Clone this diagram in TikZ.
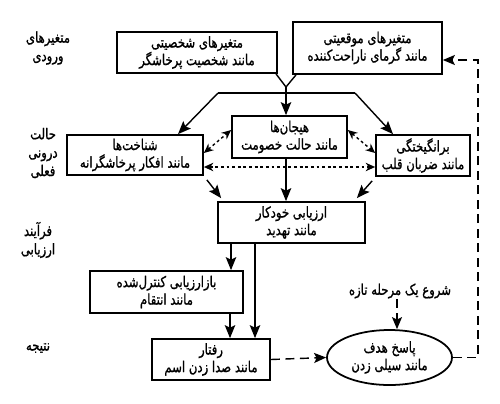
\documentclass[tikz,border=0pt]{standalone}
\usepackage{fontspec}
\newfontfamily\fafont[Script=Arabic,FakeStretch=0.78,FakeBold=1]{DejaVu Sans}
\usetikzlibrary{arrows.meta,shapes.geometric,calc}
\TeXXeTstate=1
\newcommand{\fatx}[1]{\beginR#1\endR}

\tikzset{
    box/.style={draw,line width=1pt,align=center,inner sep=0pt,
        font=\fafont\fontsize{8.5}{10}\selectfont},
    oval/.style={box,ellipse},
    lbl/.style={align=center,inner sep=0pt,font=\fafont\fontsize{8.5}{10.5}\selectfont},
    arr/.style={line width=0.8pt,-{Stealth[length=2.6mm,width=2.1mm,inset=0.5mm]}},
    dotarr/.style={line width=0.8pt,dash pattern=on 1.6pt off 1.6pt,{Stealth[length=1.9mm,width=1.7mm]}-{Stealth[length=1.9mm,width=1.7mm]}},
    dasharr/.style={line width=0.8pt,dash pattern=on 1.8mm off 1.1mm,-{Stealth[length=2.4mm,width=2mm,inset=0.5mm]}}
}

\begin{document}
\begin{tikzpicture}[x=0.02cm,y=-0.02cm]
    \useasboundingbox (0,0) rectangle (500,403);
    % labels on the left
    \foreach \n/\x/\y/\t in {in/48/48/{\fatx{متغیرهای}\\\fatx{ورودی}},
                             st/43/153/{\fatx{حالت}\\\fatx{درونی}\\\fatx{فعلی}},
                             ap/38/240/{\fatx{فرآیند}\\\fatx{ارزیابی}},
                             out/38/348/{\fatx{نتیجه}}}{
        \node[lbl] (lab\n) at (\x,\y) {\t};
    }

    % input variables
    \node[box,minimum width=3.2cm,minimum height=0.82cm] (pers) at (197,52.5)
        {\fatx{متغیرهای شخصیتی}\\\fatx{مانند شخصیت پرخاشگر}};
    \node[box,minimum width=2.98cm,minimum height=1.04cm] (sit) at (367.5,48)
        {\fatx{متغیرهای موقعیتی}\\\fatx{مانند گرمای ناراحت‌کننده}};

    % present internal state
    \node[box,minimum width=2.3cm,minimum height=0.84cm] (emo) at (289.5,137)
        {\fatx{هیجان‌ها}\\\fatx{مانند حالت خصومت}};
    \node[box,minimum width=2.72cm,minimum height=0.8cm] (cog) at (135,155)
        {\fatx{شناخت‌ها}\\\fatx{مانند افکار پرخاشگرانه}};
    \node[box,minimum width=1.88cm,minimum height=0.82cm] (aro) at (423,155.5)
        {\fatx{برانگیختگی}\\\fatx{مانند ضربان قلب}};

    % appraisal
    \node[box,minimum width=2.94cm,minimum height=0.82cm] (auto) at (291.5,222.5)
        {\fatx{ارزیابی خودکار}\\\fatx{مانند تهدید}};
    \node[box,minimum width=3.06cm,minimum height=0.84cm] (reap) at (166.5,292)
        {\fatx{بازارزیابی کنترل‌شده}\\\fatx{مانند انتقام}};

    % outcome
    \node[box,minimum width=2.36cm,minimum height=0.82cm] (beh) at (211,359.5)
        {\fatx{رفتار}\\\fatx{مانند صدا زدن اسم}};
    \node[oval,minimum width=2.5cm,minimum height=1.1cm] (goal) at (389.5,357.5)
        {\fatx{پاسخ هدف}\\\fatx{مانند سیلی زدن}};
    \node[lbl] (start) at (400,291) {\fatx{شروع یک مرحله تازه}};

    \coordinate (j) at (286,87);
    \coordinate (hl) at (218,93);
    \coordinate (hr) at (355,93);
    \coordinate (fb) at (478,60);

    % inputs into internal state
    \draw[line width=0.8pt] (pers.south -| 276,0) -- (j) -- (sit.south -| 296,0);
    \draw[line width=0.8pt] (hl) -- (hr);
    \draw[arr] (j) -- (emo.north -| j);
    \draw[arr] (hl) -- (cog.north -| 178,0);
    \draw[arr] (hr) -- (aro.north -| 393,0);

    % links inside the internal state
    \draw[dotarr] (cog.east |- 0,153) -- (emo.west |- 0,130);
    \draw[dotarr] (emo.east |- 0,130) -- (aro.west |- 0,153);
    \draw[dotarr] (cog.east |- 0,167) -- (aro.west |- 0,167);

    % into appraisal
    \draw[arr] ($(cog.south east)+(3,4)$) -- ($(auto.north west)+(4,-3)$);
    \draw[arr] (emo.south -| j) -- (auto.north -| j);
    \draw[arr] ($(aro.south west)+(-3,4)$) -- ($(auto.north east)+(-9,-3)$);
    \draw[arr] (auto.south -| 231,0) -- (reap.north -| 231,0);
    \draw[arr] (auto.south -| 255,0) -- (beh.north -| 255,0);
    \draw[arr] (reap.south -| 230,0) -- (beh.north -| 230,0);

    % outcome and feedback
    \draw[dasharr] (beh.east) -- (goal.west);
    \draw[dasharr] (start.south -| 397,0) -- (goal.north -| 397,0);
    \draw[dasharr] (goal.east) -| (fb) -- (sit.east |- fb);
\end{tikzpicture}
\end{document}
